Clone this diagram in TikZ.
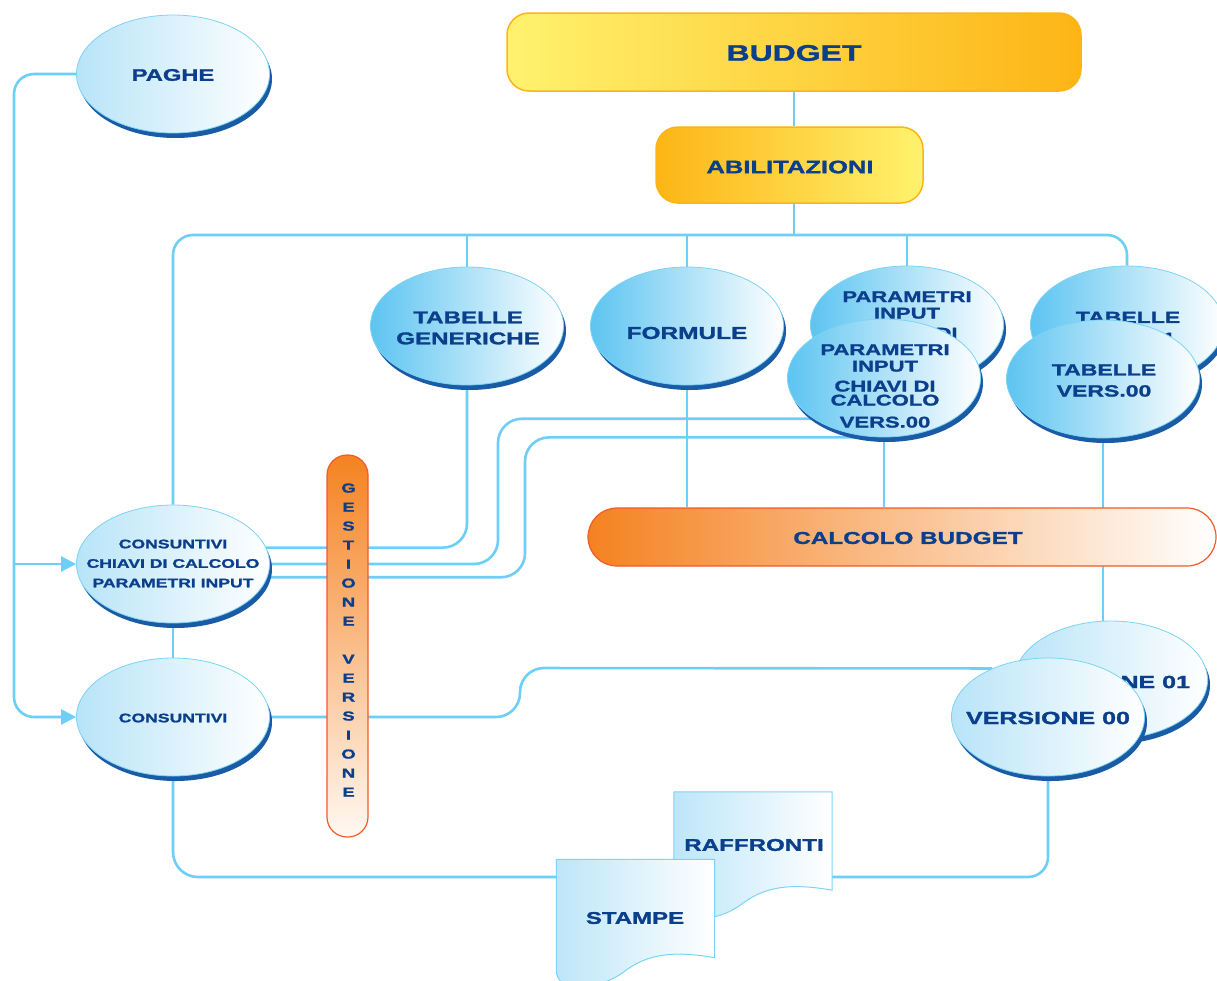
\documentclass[tikz,border=0pt]{standalone}
\usepackage{fontspec}
\newfontfamily\dfont[FakeStretch=1.42,FakeBold=1.5]{Liberation Sans}
\newcommand\fsz[2]{\fontsize{#1}{#2}\selectfont}
\usetikzlibrary{arrows.meta,shadows,backgrounds,shapes.geometric,calc}
\definecolor{txtblue}{HTML}{0B3F8C}
\definecolor{connblue}{HTML}{6DCFF6}
\definecolor{rim}{HTML}{1A5BA6}
\definecolor{ellsat}{HTML}{5DC4F1}
\definecolor{ellpale}{HTML}{B8E4F8}
\definecolor{ellborder}{HTML}{7DD3F6}
\definecolor{docblue}{HTML}{BDE6F9}
\definecolor{ylight}{HTML}{FFF26E}
\definecolor{ydark}{HTML}{FDB515}
\definecolor{orng}{HTML}{F58220}
\definecolor{orngborder}{HTML}{F15A29}
\definecolor{peach}{HTML}{FFF8F2}
\begin{document}
\begin{tikzpicture}[x=1pt,y=-1pt,
  conn/.style={draw=connblue, line width=2.6pt},
  arr/.style={-{Triangle[length=15pt,width=15pt]}},
  ybox/.style={rectangle, rounded corners=22pt, draw=ydark, line width=1.5pt, inner sep=0pt},
  ell/.style={ellipse, draw=ellborder, line width=0.8pt, minimum width=193pt, minimum height=118pt, inner sep=0pt,
     general shadow={fill=rim, draw=none, shadow xshift=2.5pt, shadow yshift=-5pt}},
  sat/.style={ell, left color=ellsat, right color=white},
  pale/.style={ell, left color=ellpale, right color=white},
  txt/.style 2 args={text=txtblue, align=center, inner sep=0pt, font=\dfont\bfseries\fsz{#1}{#2}},
  docbox/.style={rectangle, draw=none, minimum width=158pt, minimum height=98pt, inner sep=0pt},
  docshape/.style={draw=ellborder, line width=1pt, left color=docblue, right color=white},
]
\useasboundingbox (0,0) rectangle (1217,980);

% top boxes
\node[ybox, left color=ylight, right color=ydark, minimum width=574pt, minimum height=78pt] (budget) at (794,52) {};
\node[txt={22.5}{27}] (budget-t) at (794,53) {BUDGET};
\node[ybox, left color=ydark, right color=ylight, minimum width=267pt, minimum height=76pt] (abil) at (789.5,165) {};
\node[txt={18}{22}] (abil-t) at (790,167) {ABILITAZIONI};

% ellipses
\node[pale] (paghe) at (173,74) {};
\node[txt={16.7}{20}] (paghe-t) at (173,75) {PAGHE};

\node[sat] (tg) at (467,326) {};
\node[txt={17}{21}] (tg-t) at (468,328) {TABELLE\\GENERICHE};

\node[sat] (fo) at (687,326) {};
\node[txt={17.2}{21}] (fo-t) at (687,333) {FORMULE};

\node[sat] (pb) at (907,325) {};
\node[txt={15.5}{16.5}] (pb-t) at (907,333) {PARAMETRI\\INPUT\\[3.5pt]CHIAVI DI\\[-2.5pt]CALCOLO\\[5.5pt]VERS.01};

\node[sat] (tb) at (1127,325) {};
\node[txt={16.2}{21}] (tb-t) at (1128,328) {TABELLE\\VERS.01};

\node[sat] (pf) at (884,378) {};
\node[txt={15.5}{16.5}] (pf-t) at (885,386) {PARAMETRI\\INPUT\\[3.5pt]CHIAVI DI\\[-2.5pt]CALCOLO\\[5.5pt]VERS.00};

\node[sat] (tf) at (1103,379) {};
\node[txt={16.2}{21}] (tf-t) at (1104,380.5) {TABELLE\\VERS.00};

\node[pale] (cc) at (173,564) {};
\node[txt={12.4}{19.5}] (cc-t) at (173,563.5) {CONSUNTIVI\\CHIAVI DI CALCOLO\\PARAMETRI INPUT};

\node[pale] (cons) at (173,717) {};
\node[txt={12.4}{15}] (cons-t) at (173,718) {CONSUNTIVI};

\node[pale] (v1) at (1111,680) {};
\node[txt={17.6}{21}] (v1-t) at (1108,682) {VERSIONE 01};

\node[pale] (v0) at (1048,717) {};
\node[txt={17.6}{21}] (v0-t) at (1048,718) {VERSIONE 00};

% calcolo budget bar
\node[rectangle, rounded corners=29pt, draw=orngborder, line width=1.2pt, left color=orng, right color=white,
      minimum width=628pt, minimum height=58pt, inner sep=0pt] (calc) at (902,537) {};
\node[txt={17.1}{21}] (calc-t) at (908,538) {CALCOLO BUDGET};

% gestione versione bar
\node[rectangle, rounded corners=20pt, draw=orngborder, line width=1.2pt, top color=orng, bottom color=peach,
      minimum width=41pt, minimum height=382pt, inner sep=0pt] (gv) at (347.5,646) {};
\node[txt={13}{19}] (gv-t) at (348.5,640) {G\\E\\S\\T\\I\\O\\N\\E\\[19pt]V\\E\\R\\S\\I\\O\\N\\E};

% documents
\node[docbox] (rf) at (753,841) {};
\path[docshape] (rf.north west) -- (rf.north east) -- (rf.south east)
  .. controls ($(rf.south east)+(-45,-8)$) and ($(rf.south east)+(-68,-2)$) .. ($(rf.south east)+(-88,12)$)
  .. controls ($(rf.south east)+(-108,28)$) and ($(rf.south west)+(25,32)$) .. ($(rf.south west)+(8,26)$)
  .. controls ($(rf.south west)+(2,23)$) and ($(rf.south west)+(0,18)$) .. ($(rf.south west)+(0,12)$) -- cycle;
\node[txt={17}{21}] (rf-t) at (754,845) {RAFFRONTI};

\node[docbox] (st) at (635.5,908.5) {};
\path[docshape] (st.north west) -- (st.north east) -- (st.south east)
  .. controls ($(st.south east)+(-45,-8)$) and ($(st.south east)+(-68,-2)$) .. ($(st.south east)+(-88,12)$)
  .. controls ($(st.south east)+(-108,28)$) and ($(st.south west)+(25,32)$) .. ($(st.south west)+(8,26)$)
  .. controls ($(st.south west)+(2,23)$) and ($(st.south west)+(0,18)$) .. ($(st.south west)+(0,12)$) -- cycle;
\node[txt={16.9}{21}] (st-t) at (635,918) {STAMPE};

% connectors
\coordinate (bus) at (794,235);
\coordinate (lft) at (14,400);
\coordinate (vb) at (498,500);
\coordinate (vc) at (525,500);
\coordinate (vs) at (520,668);
\begin{pgfonlayer}{background}
\draw[conn] (budget.south) -- (budget.south |- abil.north);
\draw[conn] (budget.south |- abil.south) -- (bus);
\draw[conn, rounded corners=20pt] (cc.north) |- (bus) -| (tb.north);
\draw[conn, line width=2.2pt] (tg.north) -- (tg.north |- bus);
\draw[conn, line width=2.2pt] (fo.north) -- (fo.north |- bus);
\draw[conn, line width=2.2pt] (pb.north) -- (pb.north |- bus);
\draw[conn, arr, rounded corners=20pt] (paghe.west) -| (lft) |- (cons.west);
\draw[conn, arr] (lft |- cc.west) -- (cc.west);
\draw[conn, rounded corners=24pt] (cc.10) -| (tg.south);
\draw[conn, rounded corners=24pt] (cc.east) -| (vb) |- (pf.210);
\draw[conn, rounded corners=24pt] (cc.-8) -| (vc) |- (pf.south);
\draw[conn] (cc.south) -- (cons.north);
\draw[conn, rounded corners=24pt] (cons.east) -| (vs) -- (v0.139);
\draw[conn] (fo.south) -- (fo.south |- calc.north);
\draw[conn] (pf.south) -- (pf.south |- calc.north);
\draw[conn] (tf.south) -- (tf.south |- v1.north);
\draw[conn, rounded corners=25pt] (cons.south) |- ([yshift=31.5pt]st.west);
\draw[conn, rounded corners=20pt] (v0.south) |- ([yshift=-36pt]rf.east);
\end{pgfonlayer}
\end{tikzpicture}
\end{document}
